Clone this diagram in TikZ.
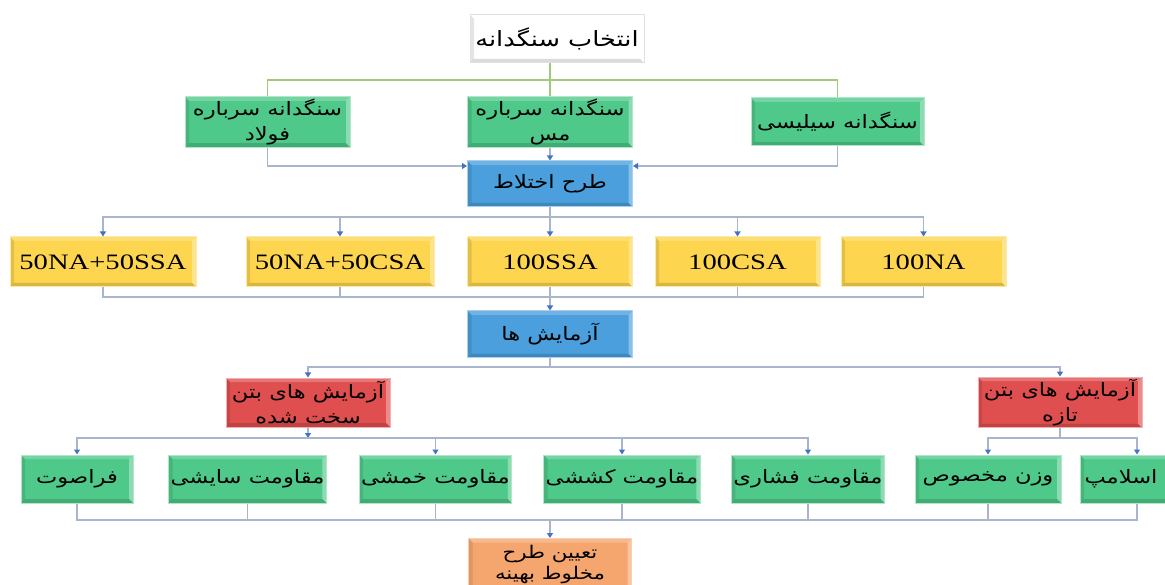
\documentclass[tikz,border=0pt]{standalone}
\usepackage{fontspec}
\setmainfont[FakeStretch=1.3]{Liberation Serif}
\newfontfamily\fa[Script=Arabic,FakeStretch=1.22]{DejaVu Sans}
\TeXXeTstate=1
\usetikzlibrary{arrows.meta,calc}
\definecolor{gfill}{HTML}{4FC98A}
\definecolor{gborder}{HTML}{B0E8C6}
\definecolor{bfill}{HTML}{4A9FDC}
\definecolor{bborder}{HTML}{A8D0F0}
\definecolor{yfill}{HTML}{FDD54E}
\definecolor{yborder}{HTML}{FBE9A6}
\definecolor{rfill}{HTML}{DF4F4F}
\definecolor{rborder}{HTML}{F0B0B0}
\definecolor{ofill}{HTML}{F5A66F}
\definecolor{oborder}{HTML}{F8D0B0}
\definecolor{lineg}{HTML}{A9B5CA}
\definecolor{arrowb}{HTML}{4472C4}
\definecolor{greenline}{HTML}{9CCB7C}
\tikzset{
  bevel/.style={path picture={
    \coordinate (pNW) at (path picture bounding box.north west);
    \coordinate (pNE) at (path picture bounding box.north east);
    \coordinate (pSE) at (path picture bounding box.south east);
    \coordinate (pSW) at (path picture bounding box.south west);
    \fill[white,opacity=.22] (pNW) -- (pNE) -- ([shift={(-4pt,-4pt)}]pNE) -- ([shift={(4pt,-4pt)}]pNW) -- cycle;
    \fill[white,opacity=.35] (pNE) -- (pSE) -- ([shift={(-4pt,4pt)}]pSE) -- ([shift={(-4pt,-4pt)}]pNE) -- cycle;
    \fill[black,opacity=.14] (pSE) -- (pSW) -- ([shift={(4pt,4pt)}]pSW) -- ([shift={(-4pt,4pt)}]pSE) -- cycle;
    \fill[black,opacity=.10] (pSW) -- (pNW) -- ([shift={(4pt,-4pt)}]pNW) -- ([shift={(4pt,4pt)}]pSW) -- cycle;
  }},
  basebox/.style={rectangle, line width=1pt, inner sep=2pt, align=center, bevel,
    font=\fa\fontsize{18.5}{25}\selectfont},
  wbox/.style={basebox, fill=white, draw=black!12, font=\fa\fontsize{21}{25}\selectfont},
  gbox/.style={basebox, fill=gfill, draw=gborder},
  bbox/.style={basebox, fill=bfill, draw=bborder},
  ybox/.style={basebox, fill=yfill, draw=yborder, font=\fontsize{22}{25}\selectfont},
  rbox/.style={basebox, fill=rfill, draw=rborder},
  obox/.style={basebox, fill=ofill, draw=oborder, font=\fa\fontsize{17.5}{21}\selectfont},
  conn/.style={draw=lineg, line width=1.2pt},
  gconn/.style={draw=greenline, line width=1.4pt},
  arr/.style={-{Triangle[length=5pt,width=6pt,color=arrowb]}},
}
\begin{document}
\begin{tikzpicture}[x=1pt,y=-1pt]
\useasboundingbox (0,0) rectangle (1165,585);
% top
\node[wbox, minimum width=174, minimum height=48] (top) at (557,39) {\beginR انتخاب سنگدانه\endR};
\node[gbox, minimum width=165, minimum height=50] (gA) at (267.5,122) {\beginR سنگدانه سرباره\endR\\\beginR فولاد\endR};
\node[gbox, minimum width=165, minimum height=50] (gB) at (550,122) {\beginR سنگدانه سرباره\endR\\\beginR مس\endR};
\node[gbox, minimum width=173, minimum height=48] (gC) at (837.5,122) {\beginR سنگدانه سیلیسی\endR};
\node[bbox, minimum width=165, minimum height=46] (mix) at (550,184) {\beginR طرح اختلاط\endR};
% yellow row
\node[ybox, minimum width=186, minimum height=50] (y1) at (103,262) {50NA+50SSA};
\node[ybox, minimum width=188, minimum height=50] (y2) at (340,262) {50NA+50CSA};
\node[ybox, minimum width=165, minimum height=50] (y3) at (550,262) {100SSA};
\node[ybox, minimum width=165, minimum height=50] (y4) at (737.5,262) {100CSA};
\node[ybox, minimum width=165, minimum height=50] (y5) at (923.5,262) {100NA};
\node[bbox, minimum width=165, minimum height=47] (tests) at (550,334.5) {\beginR آزمایش ها\endR};
\node[rbox, minimum width=164, minimum height=49] (r1) at (308,402.5) {\beginR آزمایش های بتن\endR\\\beginR سخت شده\endR};
\node[rbox, minimum width=164, minimum height=49] (r2) at (1060,402.5) {\beginR آزمایش های بتن\endR\\\beginR تازه\endR};
% row 3
\node[gbox, minimum width=112, minimum height=48] (f1) at (77,479) {\beginR فراصوت\endR};
\node[gbox, minimum width=151, minimum height=48] (f2) at (247.5,479) {\beginR مقاومت سایشی\endR};
\node[gbox, minimum width=149, minimum height=48] (f3) at (435.5,479) {\beginR مقاومت خمشی\endR};
\node[gbox, minimum width=150, minimum height=48] (f4) at (622,479) {\beginR مقاومت کششی\endR};
\node[gbox, minimum width=151, minimum height=48] (f5) at (808,479) {\beginR مقاومت فشاری\endR};
\node[gbox, minimum width=146, minimum height=48] (f6) at (988,479) {\beginR وزن مخصوص\endR};
\node[gbox, minimum width=114, minimum height=48] (f7) at (1137,479) {\beginR اسلامپ\endR\hspace*{32pt}};
\node[obox, minimum width=163, minimum height=52, anchor=north, inner sep=3pt] (fin) at (550,538) {\beginR تعیین طرح\endR\\\beginR مخلوط بهینه\endR};
% bus coordinates
\coordinate (b1) at (550,80);
\coordinate (b2) at (550,217);
\coordinate (b3) at (550,297);
\coordinate (b4) at (550,367);
\coordinate (b5) at (308,438);
\coordinate (b6) at (1060,438);
\coordinate (b7) at (550,520);
\coordinate (mA) at (0,166);
% top green tree
\draw[gconn] (top.south -| b1) -- (b1);
\draw[gconn] (b1) -| (gA.north);
\draw[gconn] (b1) -| (gC.north);
\draw[gconn] (b1) -- (gB.north);
% into mix
\draw[conn,arr] (gA.south) |- (mix.west |- mA);
\draw[conn,arr] (gC.south) |- (mix.east |- mA);
\draw[conn,arr] (gB.south) -- (mix.north);
% mix to yellow
\draw[conn] (mix.south) -- (b2);
\foreach \n in {y1,y2,y4,y5} \draw[conn,arr] (b2) -| (\n.north);
\draw[conn,arr] (b2) -- (y3.north);
% yellow to tests
\foreach \n in {y1,y2,y4,y5} \draw[conn] (\n.south) |- (b3);
\draw[conn] (y3.south) -- (b3);
\draw[conn,arr] (b3) -- (tests.north);
% tests to red
\draw[conn] (tests.south) -- (b4);
\draw[conn,arr] (b4) -| (r1.north);
\draw[conn,arr] (b4) -| (r2.north);
% hardened
\draw[conn,arr] (r1.south) -- (b5);
\foreach \n in {f1,f3,f4,f5} \draw[conn,arr] (b5) -| (\n.north);
% fresh
\draw[conn] (r2.south) -- (b6);
\draw[conn,arr] (b6) -| (f6.north);
\draw[conn,arr] (b6) -| (f7.north);
% to final
\foreach \n in {f1,f2,f3,f4,f5,f6,f7} \draw[conn] (\n.south) |- (b7);
\draw[conn,arr] (b7) -- (fin.north);
\end{tikzpicture}
\end{document}
